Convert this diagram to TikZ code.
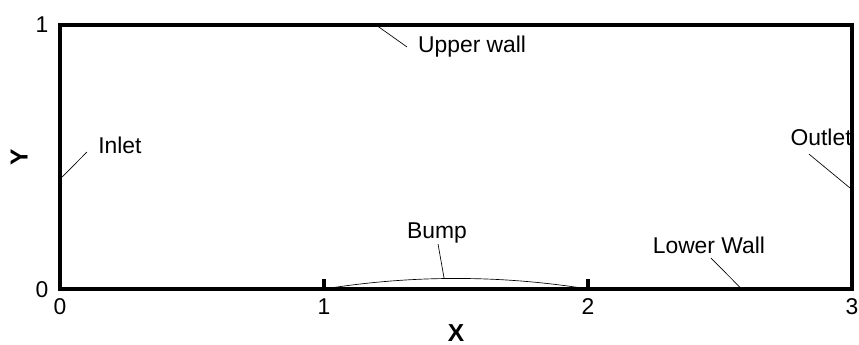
\documentclass[tikz,border=0pt]{standalone}
\usepackage{fontspec}
\setmainfont{Liberation Sans}
\usetikzlibrary{positioning}

\begin{document}
\begin{tikzpicture}[x=6.985cm, y=6.985cm,
    wall/.style={line width=3pt},
    tick/.style={line width=2.4pt},
    leader/.style={line width=0.5pt},
    lbl/.style={font=\fontsize{17.2}{19}\selectfont, inner sep=0pt, anchor=base},
    axlbl/.style={font=\fontsize{18.5}{20}\selectfont\bfseries, inner sep=0pt}
]
    \useasboundingbox (-0.2273,-0.2121) rectangle (3.0265,1.0947);

    % channel and bump
    \coordinate (sw) at (0,0);
    \coordinate (ne) at (3,1);
    \draw[wall] (sw) rectangle (ne);
    \draw[leader] (1,0) .. controls (1.333,0.0533) and (1.667,0.0533) .. (2,0);
    \draw[tick] (1,0) -- (1,0.038);
    \draw[tick] (2,0) -- (2,0.038);

    % axes
    \node[lbl] (y1) at (-0.068,0.970) {1};
    \node[lbl] (y0) at (-0.068,-0.034) {0};
    \node[lbl] (x0) at (0,-0.098) {0};
    \node[lbl] (x1) at (1,-0.098) {1};
    \node[lbl] (x2) at (2,-0.098) {2};
    \node[lbl] (x3) at (3,-0.098) {3};
    \node[axlbl, anchor=base] (xlab) at (1.5,-0.197) {X};
    \node[axlbl, rotate=90] (ylab) at (-0.155,0.5) {Y};

    % boundary labels
    \node[lbl] (inlet) at (0.227,0.515) {Inlet};
    \node[lbl] (upper) at (1.561,0.894) {Upper wall};
    \node[lbl] (outlet) at (2.883,0.545) {Outlet};
    \node[lbl] (bump) at (1.428,0.193) {Bump};
    \node[lbl] (lower) at (2.458,0.136) {Lower Wall};

    \coordinate (inlet-a) at (0.102,0.519);
    \coordinate (inlet-b) at (0.008,0.424);
    \coordinate (upper-a) at (1.314,0.917);
    \coordinate (upper-b) at (1.197,1);
    \coordinate (outlet-a) at (2.837,0.511);
    \coordinate (outlet-b) at (2.992,0.383);
    \coordinate (bump-a) at (1.432,0.170);
    \coordinate (bump-b) at (1.455,0.040);
    \coordinate (lower-a) at (2.466,0.117);
    \coordinate (lower-b) at (2.576,0.006);

    \draw[leader] (inlet-a) -- (inlet-b);
    \draw[leader] (upper-a) -- (upper-b);
    \draw[leader] (outlet-a) -- (outlet-b);
    \draw[leader] (bump-a) -- (bump-b);
    \draw[leader] (lower-a) -- (lower-b);
\end{tikzpicture}
\end{document}
